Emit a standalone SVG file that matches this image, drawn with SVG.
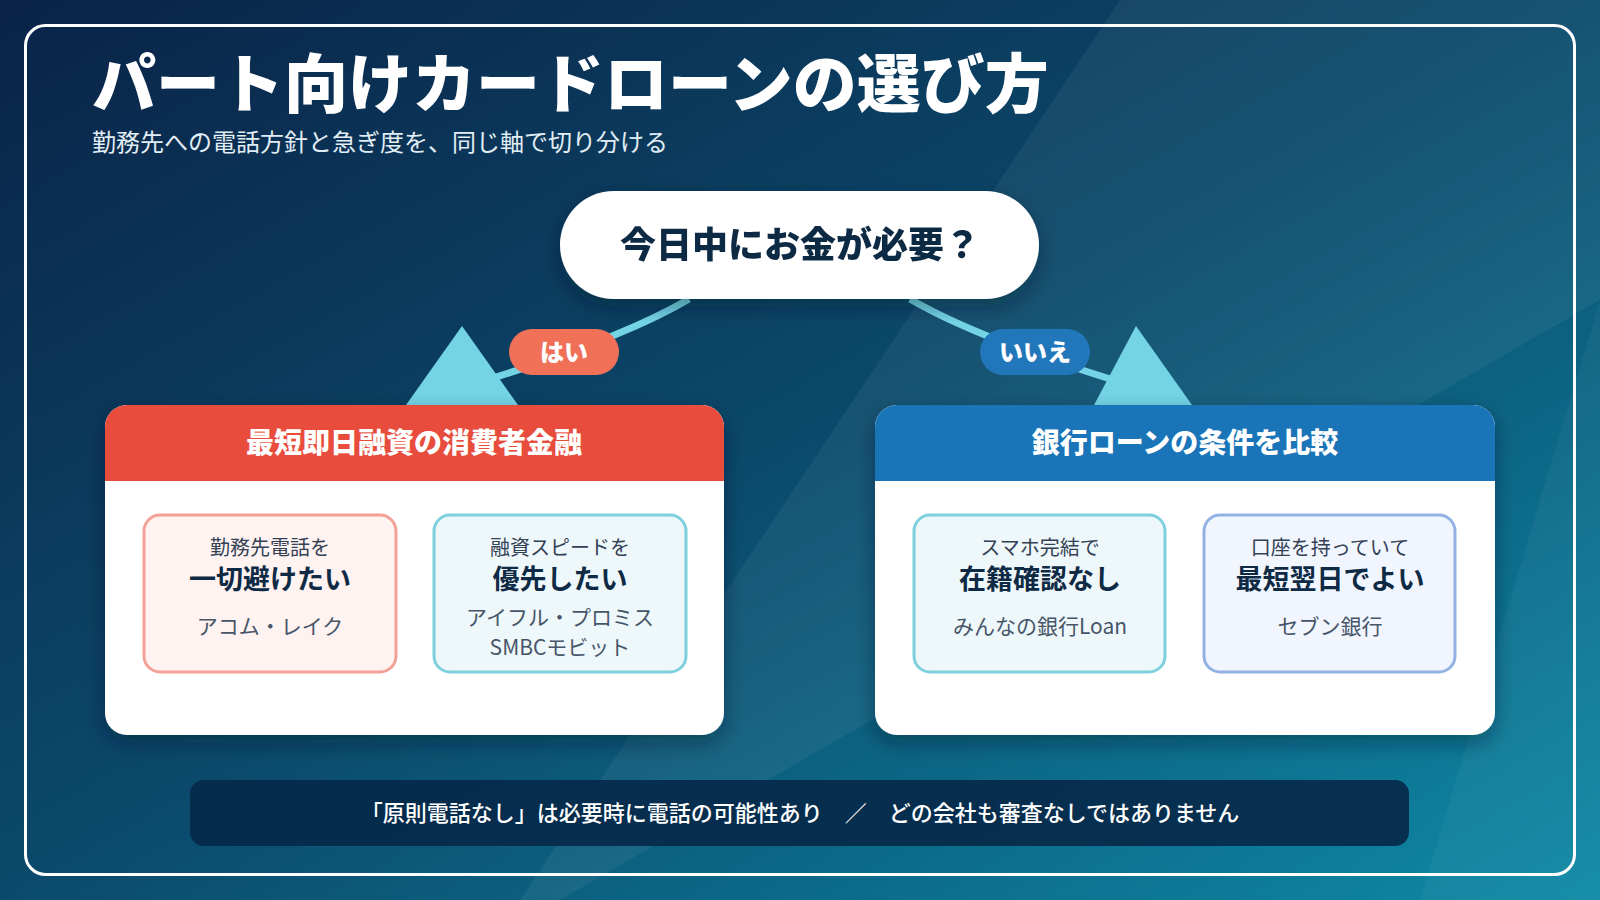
<svg xmlns="http://www.w3.org/2000/svg" width="1600" height="900" viewBox="0 0 1600 900">
<defs>
<linearGradient id="bg" x1="0" y1="0" x2="1" y2="1">
<stop offset="0" stop-color="#0a2347"/><stop offset="0.5" stop-color="#0b4a6c"/><stop offset="1" stop-color="#0e8aa6"/>
</linearGradient>
<filter id="sh" x="-10%" y="-10%" width="120%" height="130%"><feDropShadow dx="0" dy="8" stdDeviation="10" flood-color="#021626" flood-opacity="0.4"/></filter>
</defs>
<style>
text{font-family:"Noto Sans CJK JP","Noto Sans",sans-serif}
.l1{font-size:20px;fill:#334155;text-anchor:middle}
.l2{font-size:27px;font-weight:700;fill:#0f2a44;text-anchor:middle}
.l3{font-size:21px;fill:#475569;text-anchor:middle}
.hd{font-size:28px;font-weight:900;fill:#fff;text-anchor:middle}
.conn{fill:none;stroke:#74d4e6;stroke-width:7}
.tri{fill:#74d4e6}
</style>
<rect width="1600" height="900" fill="url(#bg)"/>
<polygon points="1120,0 1600,0 1600,300 560,900 520,900" fill="#ffffff" opacity="0.05"/>
<polygon points="1600,300 1600,900 1420,900" fill="#ffffff" opacity="0.04"/>
<rect x="25.5" y="25.5" width="1549" height="849" rx="20" fill="none" stroke="#fff" stroke-width="3"/>
<text x="92" y="107" font-size="64" font-weight="900" fill="#fff">パート向けカードローンの選び方</text>
<text x="92" y="151" font-size="24" fill="#e2eef5">勤務先への電話方針と急ぎ度を、同じ軸で切り分ける</text>
<g id="connectors">
<path class="conn" d="M689,299 Q620,340 470,385"/>
<polygon class="tri" points="462,326 406,405 518,405"/>
<path class="conn" d="M910,299 Q980,340 1130,385"/>
<polygon class="tri" points="1136,326 1094,405 1192,405"/>
<g id="label-yes"><rect x="509" y="329" width="110" height="46" rx="23" fill="#f07058"/><text x="564" y="361" font-size="24" font-weight="900" fill="#fff" text-anchor="middle">はい</text></g>
<g id="label-no"><rect x="980" y="329" width="110" height="46" rx="23" fill="#2277bb"/><text x="1035" y="361" font-size="24" font-weight="900" fill="#fff" text-anchor="middle">いいえ</text></g>
</g>
<g id="question" filter="url(#sh)"><rect x="560" y="191" width="479" height="108" rx="54" fill="#fff"/><text x="800" y="258" font-size="36" font-weight="900" fill="#0f2a44" text-anchor="middle">今日中にお金が必要？</text></g>
<g id="card-left">
<rect x="105" y="405" width="619" height="330" rx="22" fill="#fff" filter="url(#sh)"/>
<path d="M105,481 V427 a22,22 0 0 1 22,-22 H702 a22,22 0 0 1 22,22 V481 Z" fill="#e84c3d"/>
<text class="hd" x="414" y="453">最短即日融資の消費者金融</text>
</g>
<g id="card-right">
<rect x="875" y="405" width="620" height="330" rx="22" fill="#fff" filter="url(#sh)"/>
<path d="M875,481 V427 a22,22 0 0 1 22,-22 H1473 a22,22 0 0 1 22,22 V481 Z" fill="#1a74b8"/>
<text class="hd" x="1185" y="453">銀行ローンの条件を比較</text>
</g>
<g id="opt-l1"><rect x="144" y="515" width="252" height="157" rx="16" fill="#fff3f1" stroke="#f3a196" stroke-width="3"/>
<text class="l1" x="270" y="555">勤務先電話を</text><text class="l2" x="270" y="589">一切避けたい</text><text class="l3" x="270" y="634">アコム・レイク</text></g>
<g id="opt-l2"><rect x="434" y="515" width="252" height="157" rx="16" fill="#eef8fa" stroke="#7fd0de" stroke-width="3"/>
<text class="l1" x="560" y="555">融資スピードを</text><text class="l2" x="560" y="589">優先したい</text><text class="l3" x="560" y="625">アイフル・プロミス</text><text class="l3" x="560" y="655">SMBCモビット</text></g>
<g id="opt-r1"><rect x="914" y="515" width="251" height="157" rx="16" fill="#eef8fa" stroke="#7fd0de" stroke-width="3"/>
<text class="l1" x="1040" y="555">スマホ完結で</text><text class="l2" x="1040" y="589">在籍確認なし</text><text class="l3" x="1040" y="634">みんなの銀行Loan</text></g>
<g id="opt-r2"><rect x="1204" y="515" width="251" height="157" rx="16" fill="#f1f6fe" stroke="#93b2e4" stroke-width="3"/>
<text class="l1" x="1330" y="555">口座を持っていて</text><text class="l2" x="1330" y="589">最短翌日でよい</text><text class="l3" x="1330" y="634">セブン銀行</text></g>
<g id="note"><rect x="190" y="780" width="1219" height="66" rx="14" fill="#06294a" opacity="0.92"/>
<text x="800" y="821" font-size="22" font-weight="500" fill="#fff" text-anchor="middle" xml:space="preserve">「原則電話なし」は必要時に電話の可能性あり　／　どの会社も審査なしではありません</text></g>
</svg>
